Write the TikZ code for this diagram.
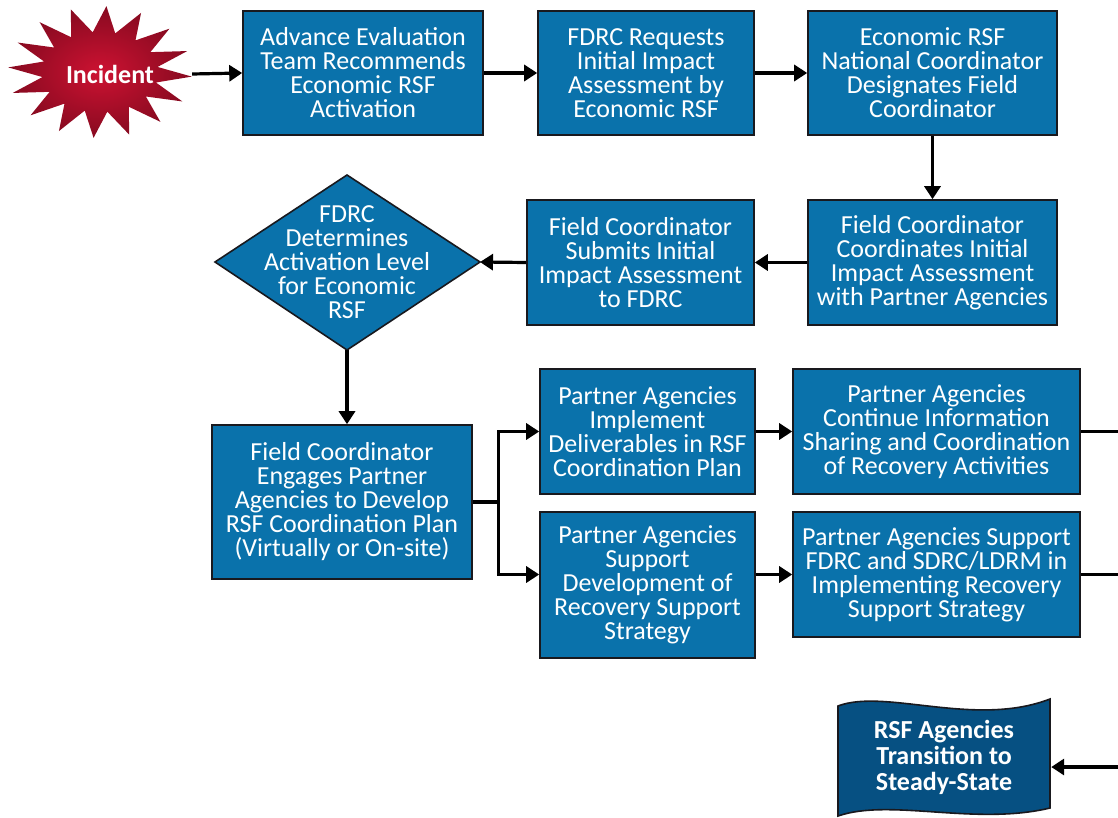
\documentclass[tikz,border=0pt]{standalone}
\usepackage{fontspec}
\setmainfont{Carlito}
\usetikzlibrary{arrows.meta}
\definecolor{boxblue}{RGB}{10,114,171}
\definecolor{flagblue}{RGB}{6,80,130}
\definecolor{starred}{RGB}{205,18,50}
\definecolor{stardark}{RGB}{135,10,32}
\definecolor{edge}{RGB}{25,25,30}
\tikzset{
  stepbox/.style={draw=edge, line width=1.6pt, fill=boxblue, text=white, align=center,
    font=\fontsize{26}{24}\selectfont, inner sep=0pt},
  conn/.style={line width=3.2pt, -{Triangle[length=13pt,width=16pt]}},
  plain/.style={line width=3.2pt},
}
\begin{document}
\begin{tikzpicture}[x=1pt,y=-1pt]
\useasboundingbox (0,0) rectangle (1118,818);
% incident star
\shade[inner color=starred, outer color=stardark]
  plot[samples at={0,...,31}, variable=\t]
  ({100+(mod(\t,2)==0?92:58)*cos(\t*11.25+4)}, {72+(mod(\t,2)==0?66:40)*sin(\t*11.25+4)}) -- cycle;
\node[text=white, font=\fontsize{26}{26}\selectfont\bfseries, minimum width=164pt, inner sep=0pt] (inc) at (110,74) {Incident};

% row 1
\node[stepbox, minimum width=240pt, minimum height=124pt] (A) at (363,73)
  {Advance Evaluation\\Team Recommends\\Economic RSF\\Activation};
\node[stepbox, minimum width=216pt, minimum height=124pt] (B) at (646,73)
  {FDRC Requests\\Initial Impact\\Assessment by\\Economic RSF};
\node[stepbox, minimum width=249pt, minimum height=124pt] (C) at (932.5,73)
  {Economic RSF\\National Coordinator\\Designates Field\\Coordinator};
% row 2
\node[stepbox, minimum width=249pt, minimum height=125pt] (D) at (932.5,262.5)
  {Field Coordinator\\Coordinates Initial\\Impact Assessment\\with Partner Agencies};
\node[stepbox, minimum width=227pt, minimum height=125pt] (E) at (640.5,262.5)
  {Field Coordinator\\Submits Initial\\Impact Assessment\\to FDRC};
% diamond
\coordinate (dN) at (347,175);
\coordinate (dE) at (480,262);
\coordinate (dS) at (347,350);
\coordinate (dW) at (215,262);
\draw[draw=edge, line width=1.6pt, fill=boxblue] (dN) -- (dE) -- (dS) -- (dW) -- cycle;
\node[text=white, align=center, font=\fontsize{26}{24}\selectfont, inner sep=0pt] (dia) at (347,262)
  {FDRC\\Determines\\Activation Level\\for Economic\\RSF};
% row 3
\node[stepbox, minimum width=260pt, minimum height=154pt] (F) at (342,502)
  {Field Coordinator\\Engages Partner\\Agencies to Develop\\RSF Coordination Plan\\(Virtually or On-site)};
\node[stepbox, minimum width=215pt, minimum height=125pt] (G) at (647.5,431.5)
  {Partner Agencies\\Implement\\Deliverables in RSF\\Coordination Plan};
\node[stepbox, minimum width=215pt, minimum height=146pt] (H) at (647.5,585)
  {Partner Agencies\\Support\\Development of\\Recovery Support\\Strategy};
\node[stepbox, minimum width=287pt, minimum height=125pt] (I) at (936.5,431.5)
  {Partner Agencies\\Continue Information\\Sharing and Coordination\\of Recovery Activities};
\node[stepbox, minimum width=287pt, minimum height=125pt] (J) at (936.5,574.5)
  {Partner Agencies Support\\FDRC and SDRC/LDRM in\\Implementing Recovery\\Support Strategy};
% flag
\draw[draw=edge, line width=1.6pt, fill=flagblue]
  (838,706) .. controls (885,688) and (975,728) .. (1050,699)
  -- (1050,808) .. controls (975,826) and (890,798) .. (838,816) -- cycle;
\node[text=white, align=center, font=\fontsize{26}{26}\selectfont\bfseries, inner sep=0pt,
  minimum width=214pt, minimum height=100pt] (K) at (944,757)
  {RSF Agencies\\Transition to\\Steady-State};
% free ends at right margin
\coordinate (rI) at (1118,431.5);
\coordinate (rJ) at (1118,574.5);
\coordinate (rK) at (1118,767);
% connectors
\draw[conn] (inc.east) -- (A.west);
\draw[conn] (A.east) -- (B.west);
\draw[conn] (B.east) -- (C.west);
\draw[conn] (C.south) -- (D.north);
\draw[conn] (D.west) -- (E.east);
\draw[conn] (E.west) -- (dE);
\draw[conn] (dS) -- (dS |- F.north);
\draw[conn] (F.east) -- ++(26,0) |- (G.west);
\draw[conn] (F.east) -- ++(26,0) |- (H.west |- J.west);
\draw[conn] (G.east) -- (I.west);
\draw[conn] (H.east |- J.west) -- (J.west);
\draw[plain] (I.east) -- (rI);
\draw[plain] (J.east) -- (rJ);
\draw[conn] (rK) -- (K.east |- rK);
\end{tikzpicture}
\end{document}
